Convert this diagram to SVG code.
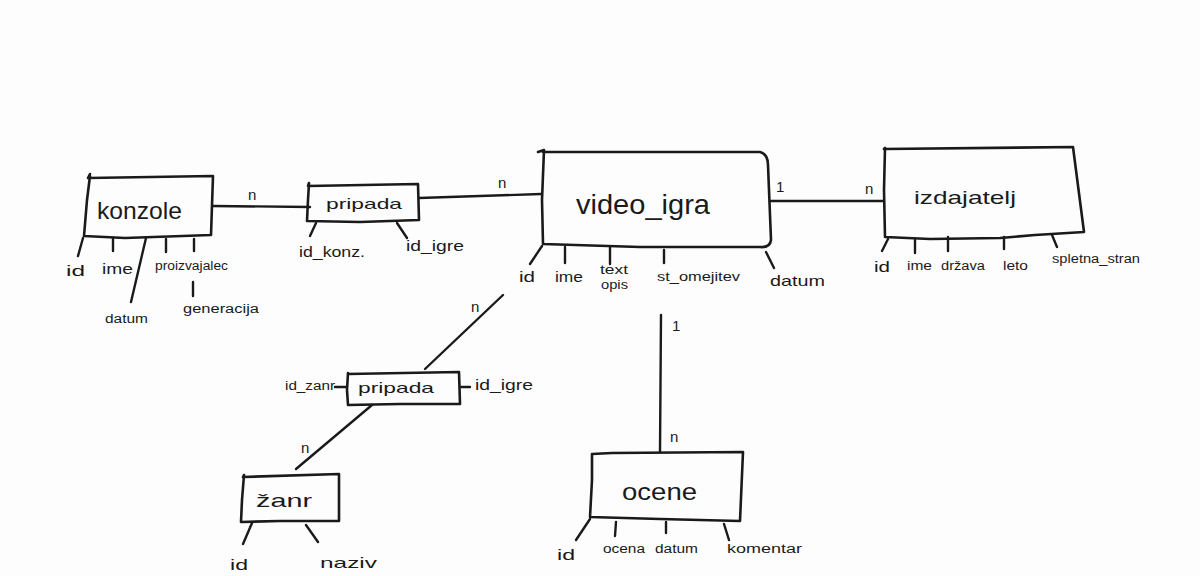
<svg xmlns="http://www.w3.org/2000/svg" width="1200" height="576" viewBox="0 0 1200 576">
<style>
.bx{fill:none;stroke:#1a1a1a;stroke-width:2.6;stroke-linejoin:round;stroke-linecap:round}
.ln{fill:none;stroke:#1a1a1a;stroke-width:2.4;stroke-linecap:round}
.t{font-family:"Liberation Sans",Arial,sans-serif;fill:#1a1a1a}
.big{font-size:24px}
.mid{font-size:19px}
.a{font-size:15px}
.s{font-size:12px}
</style>
<rect width="1200" height="576" fill="#fdfdfd"/>
<g id="connectors">
<path class="ln" d="M213 206 L310 207"/>
<text class="t a" x="248" y="200">n</text>
<path class="ln" d="M419 198 L541 194"/>
<text class="t a" x="498" y="188">n</text>
<path class="ln" d="M771 201 L883 201"/>
<text class="t a" x="776" y="192">1</text>
<text class="t a" x="865" y="194">n</text>
<path class="ln" d="M503 295 L425 369"/>
<text class="t a" x="471" y="312">n</text>
<path class="ln" d="M372 405 L296 469"/>
<text class="t a" x="301" y="453">n</text>
<path class="ln" d="M661 315 L660 452"/>
<text class="t a" x="672" y="331">1</text>
<text class="t a" x="670" y="442">n</text>
</g>
<g id="konzole">
<path class="bx" d="M90 174 L88 178 L213 176 L211 235 L125 238 L84 236 L87 200 L90 176"/>
<text class="t big" x="97" y="219" textLength="85" lengthAdjust="spacingAndGlyphs">konzole</text>
<path class="ln" d="M83 238 L78 256 M113 238 L113 251 M146 238 L131 302 M166 239 L166 252 M194 239 L194 251 M193 282 L193 296"/>
<text class="t a" x="66" y="276" textLength="19" lengthAdjust="spacingAndGlyphs">id</text>
<text class="t a" x="102" y="274" textLength="31" lengthAdjust="spacingAndGlyphs">ime</text>
<text class="t s" x="155" y="270" textLength="73" lengthAdjust="spacingAndGlyphs">proizvajalec</text>
<text class="t s" x="105" y="323" textLength="43" lengthAdjust="spacingAndGlyphs">datum</text>
<text class="t s" x="183" y="313" textLength="76" lengthAdjust="spacingAndGlyphs">generacija</text>
</g>
<g id="pripada1">
<path class="bx" d="M309 183 L308 186 L418 184 L419 220 L360 222 L307 221 L308 200 L309 183"/>
<text class="t a" x="326" y="209" textLength="76" lengthAdjust="spacingAndGlyphs">pripada</text>
<path class="ln" d="M316 223 L310 236 M397 223 L407 238"/>
<text class="t a" x="299" y="257" textLength="66" lengthAdjust="spacingAndGlyphs">id_konz.</text>
<text class="t a" x="406" y="251" textLength="58" lengthAdjust="spacingAndGlyphs">id_igre</text>
</g>
<g id="video_igra">
<path class="bx" d="M544 151 L543 152 L760 152 Q768 154 768 165 L771 240 Q770 248 760 247 L640 247 L543 244 L542 200 L544 150 L538 152"/>
<text class="t" style="font-size:28px" x="576" y="214" textLength="134" lengthAdjust="spacingAndGlyphs">video_igra</text>
<path class="ln" d="M542 246 L530 264 M565 247 L565 263 M610 247 L610 264 M664 250 L664 263 M766 252 L774 268"/>
<text class="t a" x="519" y="282" textLength="16" lengthAdjust="spacingAndGlyphs">id</text>
<text class="t a" x="555" y="282" textLength="28" lengthAdjust="spacingAndGlyphs">ime</text>
<text class="t s" x="600" y="274" textLength="28" lengthAdjust="spacingAndGlyphs">text</text>
<text class="t s" x="601" y="289" textLength="27" lengthAdjust="spacingAndGlyphs">opis</text>
<text class="t s" x="657" y="281" textLength="83" lengthAdjust="spacingAndGlyphs">st_omejitev</text>
<text class="t a" x="770" y="286" textLength="55" lengthAdjust="spacingAndGlyphs">datum</text>
</g>
<g id="izdajatelj">
<path class="bx" d="M885 148 L884 149 L1073 147 L1084 232 L1035 235 L1000 238 L930 239 L885 237 L884 190 L885 148"/>
<text class="t mid" x="914" y="204" textLength="102" lengthAdjust="spacingAndGlyphs">izdajatelj</text>
<path class="ln" d="M888 239 L882 251 M915 240 L915 253 M948 237 L948 251 M1004 237 L1004 249 M1052 235 L1057 247"/>
<text class="t a" x="874" y="272" textLength="16" lengthAdjust="spacingAndGlyphs">id</text>
<text class="t s" x="907" y="270" textLength="25" lengthAdjust="spacingAndGlyphs">ime</text>
<text class="t s" x="941" y="270" textLength="44" lengthAdjust="spacingAndGlyphs">država</text>
<text class="t s" x="1003" y="270" textLength="25" lengthAdjust="spacingAndGlyphs">leto</text>
<text class="t s" x="1052" y="263" textLength="88" lengthAdjust="spacingAndGlyphs">spletna_stran</text>
</g>
<g id="pripada2">
<path class="bx" d="M348 373 L348 374 L459 372 L460 404 L400 404 L348 405 L347 390 L348 373"/>
<text class="t a" x="358" y="393" textLength="76" lengthAdjust="spacingAndGlyphs">pripada</text>
<path class="ln" d="M335 387 L346 387 M461 387 L470 387"/>
<text class="t s" x="285" y="390" textLength="50" lengthAdjust="spacingAndGlyphs">id_zanr</text>
<text class="t a" x="475" y="390" textLength="58" lengthAdjust="spacingAndGlyphs">id_igre</text>
</g>
<g id="zanr">
<path class="bx" d="M244 475 L243 477 L339 474 L339 521 L280 521 L241 522 L242 500 L244 475"/>
<text class="t mid" x="256" y="507" textLength="56" lengthAdjust="spacingAndGlyphs">žanr</text>
<path class="ln" d="M252 523 L243 544 M306 525 L318 542"/>
<text class="t a" x="230" y="570" textLength="18" lengthAdjust="spacingAndGlyphs">id</text>
<text class="t a" x="320" y="568" textLength="57" lengthAdjust="spacingAndGlyphs">naziv</text>
</g>
<g id="ocene">
<path class="bx" d="M592 454 L612 453 L743 452 L740 521 L660 519 L590 517 L592 480 L592 454"/>
<text class="t big" x="622" y="500" textLength="75" lengthAdjust="spacingAndGlyphs">ocene</text>
<path class="ln" d="M590 519 L576 540 M616 522 L615 536 M666 522 L666 533 M724 524 L729 540"/>
<text class="t a" x="557" y="560" textLength="18" lengthAdjust="spacingAndGlyphs">id</text>
<text class="t s" x="603" y="553" textLength="42" lengthAdjust="spacingAndGlyphs">ocena</text>
<text class="t s" x="655" y="553" textLength="43" lengthAdjust="spacingAndGlyphs">datum</text>
<text class="t s" x="727" y="553" textLength="75" lengthAdjust="spacingAndGlyphs">komentar</text>
</g>
</svg>
